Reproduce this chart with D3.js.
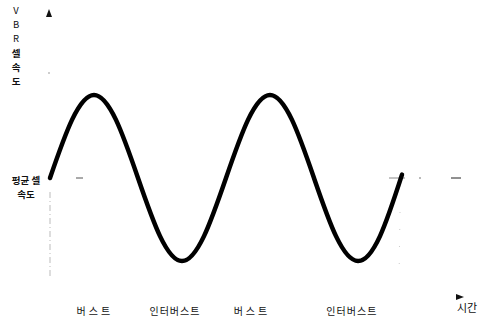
<!DOCTYPE html>
<html>
<head>
<meta charset="utf-8">
<script src="https://cdn.jsdelivr.net/npm/d3@7"></script>
<style>
  body { margin: 0; background: #fff; }
  text { font-family: "Noto Sans CJK KR", "Noto Sans", sans-serif; fill: #111; }
</style>
</head>
<body>
<svg id="chart" width="478" height="320"></svg>
<script>
// time in half-burst units, rate relative (0 = min, 50 = mean, 100 = peak)
var times = [0, 0.5, 1, 1.5, 2, 2.5, 3, 3.5, 4, 4.5, 5, 5.5, 6, 6.5, 7, 7.5, 8];
var rates = [50, 85, 100, 85, 50, 15, 0, 15, 50, 85, 100, 85, 50, 15, 0, 15, 52];
var meanRate = 50;

var phaseLabels = ["버스트", "인터버스트", "버스트", "인터버스트"];
var phasePos = [1.02, 2.84, 4.59, 6.86];
var yAxisLabel = ["V", "B", "R", "셀", "속", "도"];
var meanLabel = ["평균 셀", "속도"];
var xAxisLabel = "시간";

var svg = d3.select("#chart");

var x = d3.scaleLinear().domain([0, 9.5]).range([50, 468]);
var y = d3.scaleLinear().domain([0, 100]).range([261, 95]);

// y axis: only the arrow head and a faint dashed trace survive in the print
svg.append("path")
    .attr("d", "M49,9 L46,17 L52,17 Z")
    .attr("fill", "#111");
svg.append("line")
    .attr("x1", 50).attr("x2", 50)
    .attr("y1", 192).attr("y2", 278)
    .attr("stroke", "#bbb")
    .attr("stroke-width", 1)
    .attr("stroke-dasharray", "6,3,1,3");
svg.append("circle").attr("cx", 49).attr("cy", 73).attr("r", 0.7).attr("fill", "#777");

// mean rate line (broken, as scanned)
var yMean = y(meanRate);
[[76, 83, "#555"], [389, 405, "#888"], [419, 421, "#777"], [451, 461, "#222"]].forEach(function(seg) {
    svg.append("line")
        .attr("x1", seg[0]).attr("x2", seg[1])
        .attr("y1", yMean).attr("y2", yMean)
        .attr("stroke", seg[2])
        .attr("stroke-width", 1);
});

// faint vertical marker at the end of the curve
svg.append("line")
    .attr("x1", x(8) - 2).attr("x2", x(8) - 3)
    .attr("y1", 212).attr("y2", 280)
    .attr("stroke", "#ccc")
    .attr("stroke-width", 1)
    .attr("stroke-dasharray", "1,16");

// the VBR cell rate curve
var line = d3.line()
    .x(function(d, i) { return x(times[i]); })
    .y(function(d) { return y(d); })
    .curve(d3.curveNatural);

svg.append("path")
    .datum(rates)
    .attr("d", line)
    .attr("fill", "none")
    .attr("stroke", "#000")
    .attr("stroke-width", 4.5)
    .attr("stroke-linecap", "round");

// y axis label, stacked vertically
svg.selectAll(".ylab")
    .data(yAxisLabel)
    .enter().append("text")
    .attr("class", "ylab")
    .attr("x", 16)
    .attr("y", function(d, i) { return 14 + i * 14.2; })
    .attr("text-anchor", "middle")
    .attr("font-size", 9.5)
    .attr("font-weight", function(d, i) { return i > 2 ? "bold" : "normal"; })
    .text(function(d) { return d; });

// mean label
svg.selectAll(".mlab")
    .data(meanLabel)
    .enter().append("text")
    .attr("class", "mlab")
    .attr("x", 26)
    .attr("y", function(d, i) { return 184 + i * 14; })
    .attr("text-anchor", "middle")
    .attr("font-size", 9.5)
    .attr("font-weight", "bold")
    .text(function(d) { return d; });

// phase labels along the time axis
svg.selectAll(".plab")
    .data(phaseLabels)
    .enter().append("text")
    .attr("class", "plab")
    .attr("x", function(d, i) { return x(phasePos[i]); })
    .attr("y", 315)
    .attr("text-anchor", "middle")
    .attr("font-size", 10)
    .attr("letter-spacing", function(d) { return d.length > 3 ? 1 : 3; })
    .text(function(d) { return d; });

// time axis arrow + label
svg.append("path")
    .attr("d", "M456,294 L464,297 L456,300 Z")
    .attr("fill", "#111");
svg.append("text")
    .attr("x", 467)
    .attr("y", 312)
    .attr("text-anchor", "middle")
    .attr("font-size", 11)
    .text(xAxisLabel);
</script>
</body>
</html>
